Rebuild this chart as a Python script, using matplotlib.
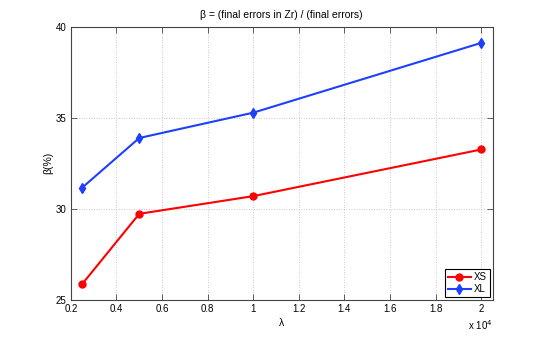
import matplotlib
matplotlib.use("Agg")
import matplotlib.pyplot as plt
from matplotlib.ticker import FuncFormatter, MultipleLocator

plt.rcParams['font.family'] = ['Liberation Sans', 'DejaVu Sans']

lam = [2500, 5000, 10000, 20000]
xs = [25.88, 29.73, 30.70, 33.26]
xl = [31.17, 33.89, 35.28, 39.11]

fig = plt.figure(figsize=(5.45, 3.4), dpi=100)
ax = fig.add_axes([0.130, 0.1176, 0.774, 0.804])

ax.plot(lam, xs, '-o', color='#ff0000', lw=1.5, ms=5, label='XS')
ax.plot(lam, xl, '-d', color='#1f3fff', lw=1.5, ms=5.5, label='XL')

ax.set_xlim(2000, 20500)
ax.set_ylim(25, 40)
ax.xaxis.set_major_locator(MultipleLocator(2000))
ax.yaxis.set_major_locator(MultipleLocator(5))
ax.xaxis.set_major_formatter(FuncFormatter(lambda v, p: ('%g' % (v / 1e4))))

ax.grid(True, linestyle=(0, (1, 2)), color='#b8b8b8', lw=0.6)
ax.tick_params(direction='in', top=True, right=True, labelsize=7, length=4, width=0.6, pad=3,
               color='#444444')
for s in ax.spines.values():
    s.set_linewidth(0.8)
    s.set_color('#444444')

ax.set_xlabel('λ', fontsize=7.5, labelpad=3)
ax.set_ylabel('β(%)', fontsize=7.5, labelpad=2)
ax.set_title('β = (final errors in Zr) / (final errors)', fontsize=7.5, pad=6)
ax.text(1.0, -0.065, 'x 10$^4$', transform=ax.transAxes, ha='right', va='top', fontsize=7)

leg = ax.legend(loc='lower right', fontsize=7, fancybox=False, edgecolor='black',
                framealpha=1, borderaxespad=0.3, handlelength=2.4, borderpad=0.3,
                labelspacing=0.2, handletextpad=0.3)
leg.get_frame().set_linewidth(0.8)

fig.savefig('out.png', dpi=100)
